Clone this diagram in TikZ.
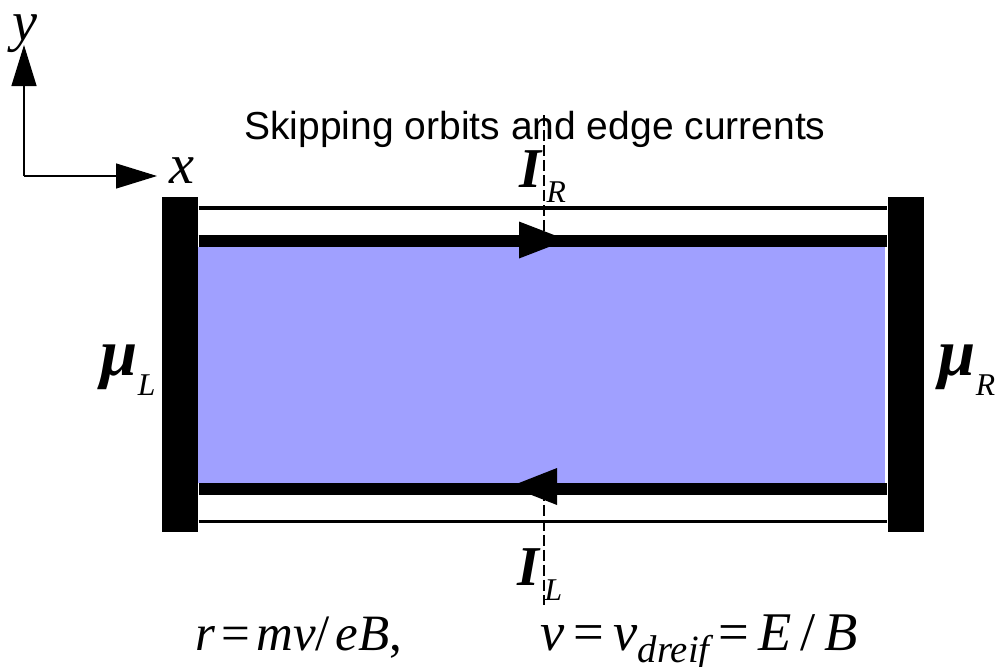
\documentclass[tikz,border=0pt]{standalone}
\usepackage{fontspec}
\setmainfont{Liberation Serif}
\newfontfamily\titlefont{Liberation Sans}
\usetikzlibrary{arrows.meta}
\definecolor{sample}{HTML}{A0A0FF}
\newcommand{\symbig}{\fontsize{16}{16}\selectfont\itshape}
\newcommand{\curbig}{\fontsize{16}{16}\selectfont\bfseries\itshape}
\newcommand{\symsub}{\fontsize{9}{9}\selectfont\itshape}
\newcommand{\mubig}{\fontsize{19}{19}\selectfont\bfseries\itshape}
\newcommand{\formsize}{\fontsize{15.5}{15.5}\selectfont}

\begin{document}
\begin{tikzpicture}[
  contact/.style={fill=black,inner sep=0pt,minimum width=0.36cm,minimum height=3.35cm},
  thinedge/.style={line width=0.04cm},
  thickedge/.style={line width=0.12cm},
  axis/.style={line width=0.35pt,-{Triangle[length=0.41cm,width=0.25cm]}},
  lbl/.style={inner sep=0pt,anchor=base west},
  cut/.style={line width=0.3pt,dash pattern=on 0.11cm off 0.04cm}
]
\useasboundingbox (0,0) rectangle (10,6.66);
% cut line, behind the sample
\coordinate (cutTop) at (5.44,5.51);
\coordinate (cutBot) at (5.44,0.61);
\draw[cut] (cutTop)--(cutBot);
% axes
\coordinate (O) at (0.24,4.90);
\coordinate (ytip) at (0.24,6.21);
\coordinate (xtip) at (1.57,4.90);
\draw[axis] (O)--(ytip);
\draw[axis] (O)--(xtip);
\node[inner sep=0pt,anchor=base] (ylab) at (0.245,6.26) {\symbig y};
\node[inner sep=0pt,anchor=base] (xlab) at (1.815,4.83) {\symbig x};
% title
\node[inner sep=0pt,anchor=base] (title) at (5.35,5.27)
  {\titlefont\fontsize{11.1}{11.1}\selectfont Skipping orbits and edge currents};
% sample between contacts
\fill[sample] (1.98,1.83) rectangle (8.85,4.19);
\node[contact] (left) at (1.80,3.015) {};
\node[contact] (right) at (9.06,3.015) {};
\coordinate (yThinTop) at (0,4.58);
\coordinate (yThickTop) at (0,4.25);
\coordinate (yThickBot) at (0,1.77);
\coordinate (yThinBot) at (0,1.445);
\draw[thinedge] (left.east |- yThinTop)--(right.west |- yThinTop);
\draw[thickedge] (left.east |- yThickTop)--(right.west |- yThickTop);
\draw[thickedge] (left.east |- yThickBot)--(right.west |- yThickBot);
\draw[thinedge,line width=0.035cm] (left.east |- yThinBot)--(right.west |- yThinBot);
% edge current arrowheads
\fill (5.19,4.445)--(5.67,4.26)--(5.19,4.075)--cycle;
\fill (5.57,1.98)--(5.10,1.795)--(5.57,1.61)--cycle;
% labels
\node[lbl] (IR) at (5.19,4.79) {{\curbig I}\kern0.05cm\raisebox{-0.15cm}{\symsub R}};
\node[lbl] (IL) at (5.17,0.81) {{\curbig I}\kern0.05cm\raisebox{-0.15cm}{\symsub L}};
\node[lbl] (muL) at (1.00,2.91) {{\mubig\char"03BC}\raisebox{-0.2cm}{\symsub L}};
\node[lbl] (muR) at (9.38,2.91) {{\mubig\char"03BC}\raisebox{-0.2cm}{\symsub R}};
\node[lbl] (radius) at (1.95,0.16) {\fontsize{14.5}{14.5}\selectfont{\itshape r}\kern0.06cm=\kern0.06cm{\itshape mv}/\kern0.06cm{\itshape eB},};
\node[lbl] (drift) at (5.40,0.16) {\formsize{\itshape v}\,=\,{\itshape v}\raisebox{-0.12cm}{\fontsize{11}{11}\selectfont\itshape dreif}\,=\,{\itshape E}\,/\,{\itshape B}};
\end{tikzpicture}
\end{document}
